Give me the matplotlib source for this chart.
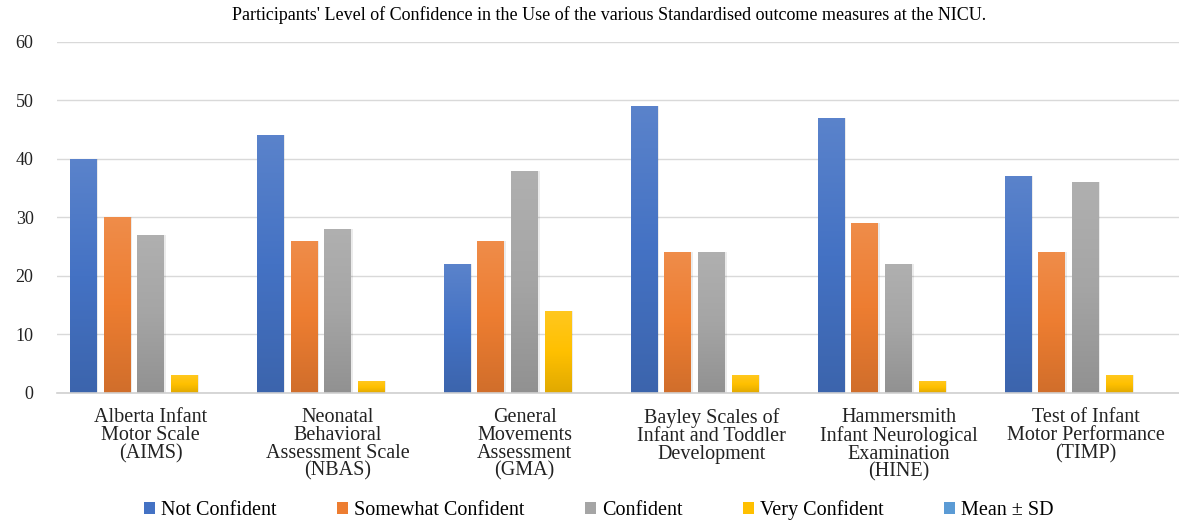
import matplotlib
matplotlib.use("Agg")
import matplotlib.pyplot as plt
import numpy as np
from matplotlib.colors import to_rgb, LinearSegmentedColormap
from matplotlib.patches import Patch

measures = [
    "Alberta Infant\nMotor Scale\n(AIMS)",
    "Neonatal\nBehavioral\nAssessment Scale\n(NBAS)",
    "General\nMovements\nAssessment\n(GMA)",
    "Bayley Scales of\nInfant and Toddler\nDevelopment",
    "Hammersmith\nInfant Neurological\nExamination\n(HINE)",
    "Test of Infant\nMotor Performance\n(TIMP)",
]
not_confident = [40, 44, 22, 49, 47, 37]
somewhat_confident = [30, 26, 26, 24, 29, 24]
confident = [27, 28, 38, 24, 22, 36]
very_confident = [3, 2, 14, 3, 2, 3]
series_names = ["Not Confident", "Somewhat Confident", "Confident",
                "Very Confident", "Mean \u00b1 SD"]
colors = ["#4472C4", "#ED7D31", "#A5A5A5", "#FFC000", "#5B9BD5"]

plt.rcParams["font.family"] = ["Liberation Serif", "DejaVu Serif"]

fig = plt.figure(figsize=(11.79, 5.23), dpi=100)
ax = fig.add_axes([0.0485, 0.249, 0.9515, 0.671])

# last series (Mean ± SD) has no bars, it only takes up a slot per group
values = [not_confident, somewhat_confident, confident, very_confident, None]
x = np.arange(len(measures))
slot = 0.9 / 5
width = slot * 0.8


def shade(c, f):
    r = np.array(to_rgb(c))
    return tuple(np.clip(r + (1 - r) * f, 0, 1)) if f > 0 else tuple(r * (1 + f))


for i, (vals, col) in enumerate(zip(values, colors)):
    if vals is None:
        continue
    offs = x - 0.45 + slot * (i + 0.5)
    bars = ax.bar(offs, vals, width, color=col, zorder=2, linewidth=0)
    cmap = LinearSegmentedColormap.from_list(
        "g", [shade(col, -0.12), col, shade(col, 0.12)])
    grad = np.linspace(0, 1, 256).reshape(-1, 1)
    for b in bars:
        bx, bw, bh = b.get_x(), b.get_width(), b.get_height()
        # soft drop shadow to the right
        ax.bar(bx + bw / 2 + 0.008, bh, bw, bottom=0, color="#000000",
               alpha=0.08, linewidth=0, zorder=1.5)
        im = ax.imshow(grad, extent=(bx, bx + bw, 0, bh), origin="lower",
                       aspect="auto", cmap=cmap, zorder=2.1)
        im.set_clip_path(b)

ax.set_xlim(-0.5, len(measures) - 0.5)
ax.set_ylim(0, 60)
ax.set_yticks(range(0, 61, 10))
ax.yaxis.grid(True, color="#D9D9D9", linewidth=1)
ax.set_axisbelow(True)
for s in ["top", "right", "left"]:
    ax.spines[s].set_visible(False)
ax.spines["bottom"].set_color("#D0D0D0")
ax.spines["bottom"].set_linewidth(1.2)
ax.tick_params(axis="both", length=0, colors="#222222")
ax.tick_params(axis="y", pad=17, labelsize=13)
ax.set_xticks(x)
ax.set_xticklabels(measures, fontsize=14.5, linespacing=0.92, va="top")
ax.tick_params(axis="x", pad=11)

fig.text(0.517, 0.972, "Participants' Level of Confidence in the Use of the various "
         "Standardised outcome measures at the NICU.",
         ha="center", va="center", fontsize=13)

handles = [Patch(facecolor=c, label=n) for c, n in zip(colors, series_names)]
fig.legend(handles=handles, loc="center", bbox_to_anchor=(0.508, 0.024), ncol=5,
           frameon=False, fontsize=14.5, handlelength=0.55, handleheight=0.55,
           handletextpad=0.3, columnspacing=3.0)

fig.savefig("out.png", dpi=100)
